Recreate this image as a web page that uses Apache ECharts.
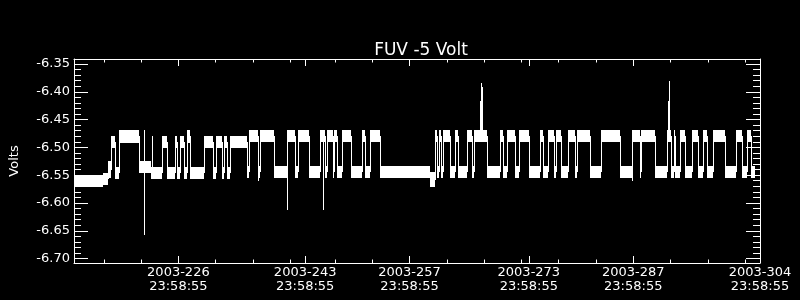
<!DOCTYPE html>
<html>
<head>
<meta charset="utf-8">
<script src="https://cdn.jsdelivr.net/npm/echarts@6/dist/echarts.min.js"></script>
<style>
html,body{margin:0;padding:0;background:#000;}
#chart{width:800px;height:300px;}
</style>
</head>
<body>
<div id="chart"></div>
<script>
// ---- text ----
const chartTitle = 'FUV -5 Volt';
const yAxisName = 'Volts';
const xTickYear = '2003';
const xTickClock = '23:58:55';

// ---- axes (x = fractional day of year 2003) ----
const xMin = 212.9992, xMax = 304.9992;
const yMin = -6.708, yMax = -6.341;
const xMajorTicks = [226.9992, 243.9992, 257.9992, 273.9992, 287.9992, 304.9992];
const xMinorTicks = [216.9992, 221.9992, 231.9992, 236.9992, 241.9992, 247.9992, 252.9992,
                     262.9992, 267.9992, 272.9992, 277.9992, 282.9992, 292.9992, 297.9992, 302.9992];
const yMajorTicks = [-6.70, -6.65, -6.60, -6.55, -6.50, -6.45, -6.40, -6.35];
const yMinorTicks = [-6.69, -6.68, -6.67, -6.66, -6.64, -6.63, -6.62, -6.61, -6.59, -6.58, -6.57, -6.56,
                     -6.54, -6.53, -6.52, -6.51, -6.49, -6.48, -6.47, -6.46, -6.44, -6.43, -6.42, -6.41,
                     -6.39, -6.38, -6.37, -6.36];

// ---- data: state segments (edges in day of year) ----
const segEdges = [213.00, 216.92, 217.68, 218.08, 218.62, 219.08, 221.83, 223.43, 224.81, 225.57,
  226.60, 226.91, 227.27, 227.84, 228.28, 228.61, 230.52, 231.72, 232.16, 232.92,
  233.15, 233.59, 233.95, 236.23, 236.53, 237.70, 238.01, 239.92, 241.58, 242.69,
  243.05, 244.60, 246.03, 246.70, 247.00, 247.81, 247.94, 248.40, 249.01, 250.27,
  251.69, 252.05, 252.72, 254.05, 260.87, 261.45, 261.77, 261.98, 262.34, 262.57,
  263.45, 264.12, 264.58, 265.82, 266.45, 266.66, 268.45, 270.23, 270.59, 271.13,
  272.24, 272.81, 274.15, 275.58, 275.94, 276.61, 277.49, 277.72, 278.39, 279.29,
  280.26, 280.53, 282.23, 283.78, 286.24, 287.92, 288.91, 289.13, 290.92, 292.66,
  293.10, 293.50, 293.73, 294.40, 295.06, 295.95, 296.71, 297.38, 297.91, 298.72,
  300.41, 301.83, 302.59, 303.26, 303.84, 304.33];
const segLevel = ['A','A2','M','Hs','L1','H1','Lm','L1','Hs','L1',
  'Hs','L1','Hs','L1','H1','L1','Hs','L1','Hs','L1',
  'Hs','L1','Hs','L','H','L','H','L','H','L',
  'H','L','H','L','H','L','H','L','H','L',
  'H','L','H','L','D','H','L','H','L','H',
  'L','H','L','H','L','H','L','H','L','H',
  'L','H','L','H','L','H','L','H','L','H',
  'L','H','L','H','L','H','L','H','L','H',
  'L','H','L','H','L','H','L','H','L','H',
  'L','H','L','H','L'];
// value band (noise range) of each state, volts
const levelNames = ['A', 'A2', 'M', 'H1', 'L1', 'Lm', 'Hs', 'H', 'L', 'D'];
const levelLow  = [-6.572, -6.567, -6.555, -6.492, -6.556, -6.546, -6.502, -6.490, -6.555, -6.572];
const levelHigh = [-6.549, -6.546, -6.525, -6.468, -6.536, -6.525, -6.480, -6.468, -6.534, -6.545];

// ---- spikes ----
const spikeX    = [222.40, 222.49, 223.56, 237.78, 241.66, 246.47, 267.46, 267.60, 267.73, 287.92, 292.70, 292.83];
const spikeFrom = [-6.535, -6.530, -6.540, -6.540, -6.490, -6.490, -6.470, -6.470, -6.470, -6.545, -6.470, -6.470];
const spikeTo   = [-6.658, -6.468, -6.480, -6.560, -6.613, -6.613, -6.416, -6.384, -6.392, -6.561, -6.416, -6.381];

// ---- build series data ----
const bandData = [];
const mids = [];
for (let i = 0; i < segLevel.length; i++) {
  const k = levelNames.indexOf(segLevel[i]);
  const lo = levelLow[k], hi = levelHigh[k];
  bandData.push([segEdges[i], segEdges[i + 1], lo, hi]);
  mids.push((lo + hi) / 2);
}
// vertical connections between consecutive states
const stepData = [];
for (let i = 1; i < segLevel.length; i++) {
  stepData.push([segEdges[i], mids[i - 1], mids[i]]);
}
const spikeData = spikeX.map((x, i) => [x, spikeFrom[i], spikeTo[i]]);

const FONT = 'DejaVu Sans';
const WHITE = '#ffffff';

function xAxisDef(pos, major, labels) {
  return {
    type: 'value', min: xMin, max: xMax, position: pos,
    axisLine: { show: major, onZero: false, lineStyle: { color: WHITE, width: 1 } },
    axisTick: { show: true, inside: true, length: major ? 7 : 3.5,
                customValues: major ? xMajorTicks : xMinorTicks,
                lineStyle: { color: WHITE, width: 1 } },
    axisLabel: labels ? {
      show: true, customValues: xMajorTicks, color: WHITE, fontFamily: FONT, fontSize: 13,
      lineHeight: 14, margin: 3,
      formatter: v => xTickYear + '-' + Math.floor(v + 1e-6) + '\n' + xTickClock
    } : { show: false },
    splitLine: { show: false }
  };
}
function yAxisDef(pos, major, labels) {
  const d = {
    type: 'value', min: yMin, max: yMax, position: pos,
    axisLine: { show: major, onZero: false, lineStyle: { color: WHITE, width: 1 } },
    axisTick: { show: true, inside: true, length: major ? 14 : 7,
                customValues: major ? yMajorTicks : yMinorTicks,
                lineStyle: { color: WHITE, width: 1 } },
    axisLabel: labels ? {
      show: true, customValues: yMajorTicks, color: WHITE, fontFamily: FONT, fontSize: 13, margin: 4,
      formatter: v => v.toFixed(2)
    } : { show: false },
    splitLine: { show: false }
  };
  if (labels) {
    d.name = yAxisName;
    d.nameLocation = 'middle';
    d.nameRotate = 90;
    d.nameGap = 53;
    d.nameTextStyle = { color: WHITE, fontFamily: FONT, fontSize: 13 };
  }
  return d;
}

// crisp vertical 1px bar between two values at x
function vbar(api, x, v1, v2) {
  const a = api.coord([x, v1]);
  const b = api.coord([x, v2]);
  const y0 = Math.round(Math.min(a[1], b[1]));
  const y1 = Math.round(Math.max(a[1], b[1]));
  return {
    type: 'rect',
    shape: { x: Math.floor(a[0]), y: y0, width: 1, height: Math.max(1, y1 - y0) },
    style: { fill: WHITE }
  };
}

const chart = echarts.init(document.getElementById('chart'), null, { renderer: 'canvas' });
chart.setOption({
  backgroundColor: '#000000',
  animation: false,
  title: {
    text: chartTitle, left: 416, top: 37, textAlign: 'center',
    textStyle: { color: WHITE, fontFamily: FONT, fontSize: 17, fontWeight: 'normal' }
  },
  grid: { left: 72, top: 59, width: 688, height: 204, containLabel: false },
  xAxis: [
    xAxisDef('bottom', true, true),
    xAxisDef('bottom', false, false),
    xAxisDef('top', true, false),
    xAxisDef('top', false, false)
  ],
  yAxis: [
    yAxisDef('left', true, true),
    yAxisDef('left', false, false),
    yAxisDef('right', true, false),
    yAxisDef('right', false, false)
  ],
  series: [
    {
      type: 'custom', data: stepData, xAxisIndex: 0, yAxisIndex: 0, z: 2,
      encode: { x: 0, y: [1, 2] },
      renderItem: function (params, api) {
        return vbar(api, api.value(0), api.value(1), api.value(2));
      }
    },
    {
      type: 'custom', data: bandData, xAxisIndex: 0, yAxisIndex: 0, z: 3,
      encode: { x: [0, 1], y: [2, 3] },
      renderItem: function (params, api) {
        const p1 = api.coord([api.value(0), api.value(3)]);
        const p2 = api.coord([api.value(1), api.value(2)]);
        const x0 = Math.floor(p1[0]), x1 = Math.floor(p2[0]);
        const y0 = Math.round(p1[1]), y1 = Math.round(p2[1]);
        return {
          type: 'rect',
          shape: { x: x0, y: y0, width: Math.max(1, x1 - x0), height: Math.max(1, y1 - y0) },
          style: { fill: WHITE }
        };
      }
    },
    {
      type: 'custom', data: spikeData, xAxisIndex: 0, yAxisIndex: 0, z: 4,
      encode: { x: 0, y: [1, 2] },
      renderItem: function (params, api) {
        return vbar(api, api.value(0), api.value(1), api.value(2));
      }
    }
  ]
});
</script>
</body>
</html>
